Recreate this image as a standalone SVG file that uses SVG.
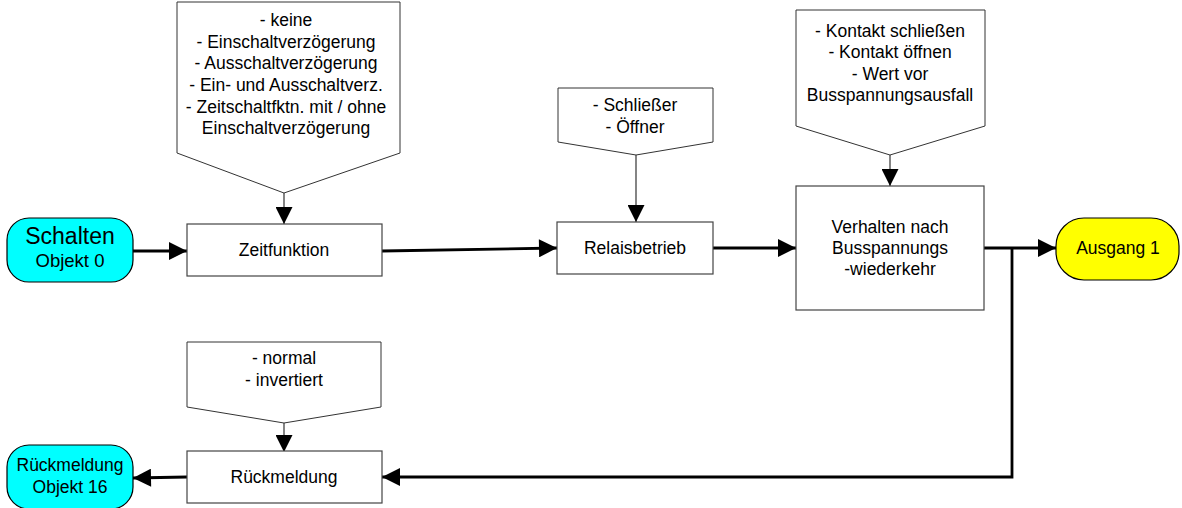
<svg xmlns="http://www.w3.org/2000/svg" width="1182" height="508" viewBox="0 0 1182 508">
<defs>
<style>
.t{font-family:"Liberation Sans",Arial,sans-serif;font-size:17.5px;fill:#000;text-anchor:middle}
.box{fill:#fff;stroke:#444;stroke-width:1.2}
.call{fill:#fff;stroke:#333;stroke-width:1}
.node{stroke:#000;stroke-width:1.2}
.con{fill:none;stroke:#000;stroke-width:2.8}
.thin{fill:none;stroke:#333;stroke-width:1.2}
</style>
<marker id="ah" viewBox="0 0 10 10" refX="10" refY="5" markerUnits="userSpaceOnUse" markerWidth="21" markerHeight="18" orient="auto">
<path d="M0,0 L10,5 L0,10 Z" fill="#000"/>
</marker>
<marker id="ahs" viewBox="0 0 10 10" refX="10" refY="5" markerUnits="userSpaceOnUse" markerWidth="17" markerHeight="17" orient="auto">
<path d="M0,0 L10,5 L0,10 Z" fill="#000"/>
</marker>
</defs>
<rect width="1182" height="508" fill="#fff"/>
<g id="connectors">
<line class="con" x1="133" y1="251" x2="187" y2="251" marker-end="url(#ah)"/>
<line class="con" x1="382" y1="251" x2="557" y2="248" marker-end="url(#ah)"/>
<line class="con" x1="713" y1="248" x2="796" y2="248" marker-end="url(#ah)"/>
<line class="con" x1="984" y1="248" x2="1056" y2="248" marker-end="url(#ah)"/>
<polyline class="con" points="1012,248 1012,477 382,477" marker-end="url(#ah)"/>
<line class="con" x1="187" y1="477" x2="133" y2="478" marker-end="url(#ah)"/>
<line class="thin" x1="284" y1="193" x2="284" y2="224" marker-end="url(#ahs)"/>
<line class="thin" x1="636" y1="155" x2="636" y2="222" marker-end="url(#ahs)"/>
<line class="thin" x1="890" y1="155" x2="890" y2="186" marker-end="url(#ahs)"/>
<line class="thin" x1="284" y1="423" x2="284" y2="452" marker-end="url(#ahs)"/>
</g>
<g id="schalten">
<rect class="node" x="7" y="218" width="126" height="64" rx="22" fill="#00FFFF"/>
<text class="t" x="70" y="244" style="font-size:23px">Schalten</text>
<text class="t" x="70" y="267" style="font-size:18.5px">Objekt 0</text>
</g>
<g id="zeitfunktion">
<rect class="box" x="187" y="224" width="195" height="52"/>
<text class="t" x="284" y="256">Zeitfunktion</text>
</g>
<g id="callout-zeit">
<polygon class="call" points="177,2 400,2 400,153 284,193 177,153"/>
<text class="t" x="286" y="26">- keine</text>
<text class="t" x="286" y="48">- Einschaltverzögerung</text>
<text class="t" x="286" y="69">- Ausschaltverzögerung</text>
<text class="t" x="286" y="91">- Ein- und Ausschaltverz.</text>
<text class="t" x="286" y="113">- Zeitschaltfktn. mit / ohne</text>
<text class="t" x="286" y="134">Einschaltverzögerung</text>
</g>
<g id="relaisbetrieb">
<rect class="box" x="557" y="222" width="156" height="52"/>
<text class="t" x="635" y="254">Relaisbetrieb</text>
</g>
<g id="callout-relais">
<polygon class="call" points="558,88 713,88 713,142 636,155 558,142"/>
<text class="t" x="635" y="111">- Schließer</text>
<text class="t" x="635" y="133">- Öffner</text>
</g>
<g id="verhalten">
<rect class="box" x="796" y="186" width="188" height="124"/>
<text class="t" x="890" y="233">Verhalten nach</text>
<text class="t" x="890" y="254">Busspannungs</text>
<text class="t" x="890" y="275">-wiederkehr</text>
</g>
<g id="callout-verhalten">
<polygon class="call" points="796,10 985,10 985,126 890,155 796,126"/>
<text class="t" x="890" y="37">- Kontakt schließen</text>
<text class="t" x="890" y="58">- Kontakt öffnen</text>
<text class="t" x="890" y="80">- Wert vor</text>
<text class="t" x="890" y="101">Busspannungsausfall</text>
</g>
<g id="ausgang">
<rect class="node" x="1056" y="218" width="123" height="62" rx="28" fill="#FFFF00"/>
<text class="t" x="1118" y="254">Ausgang 1</text>
</g>
<g id="rueckmeldung-box">
<rect class="box" x="187" y="451" width="195" height="52"/>
<text class="t" x="284" y="483">Rückmeldung</text>
</g>
<g id="callout-rueck">
<polygon class="call" points="187,342 381,342 381,407 284,423 187,407"/>
<text class="t" x="284" y="364">- normal</text>
<text class="t" x="284" y="386">- invertiert</text>
</g>
<g id="rueckmeldung-node">
<rect class="node" x="7" y="445" width="126" height="64" rx="22" fill="#00FFFF"/>
<text class="t" x="70" y="471">Rückmeldung</text>
<text class="t" x="70" y="493">Objekt 16</text>
</g>
</svg>
